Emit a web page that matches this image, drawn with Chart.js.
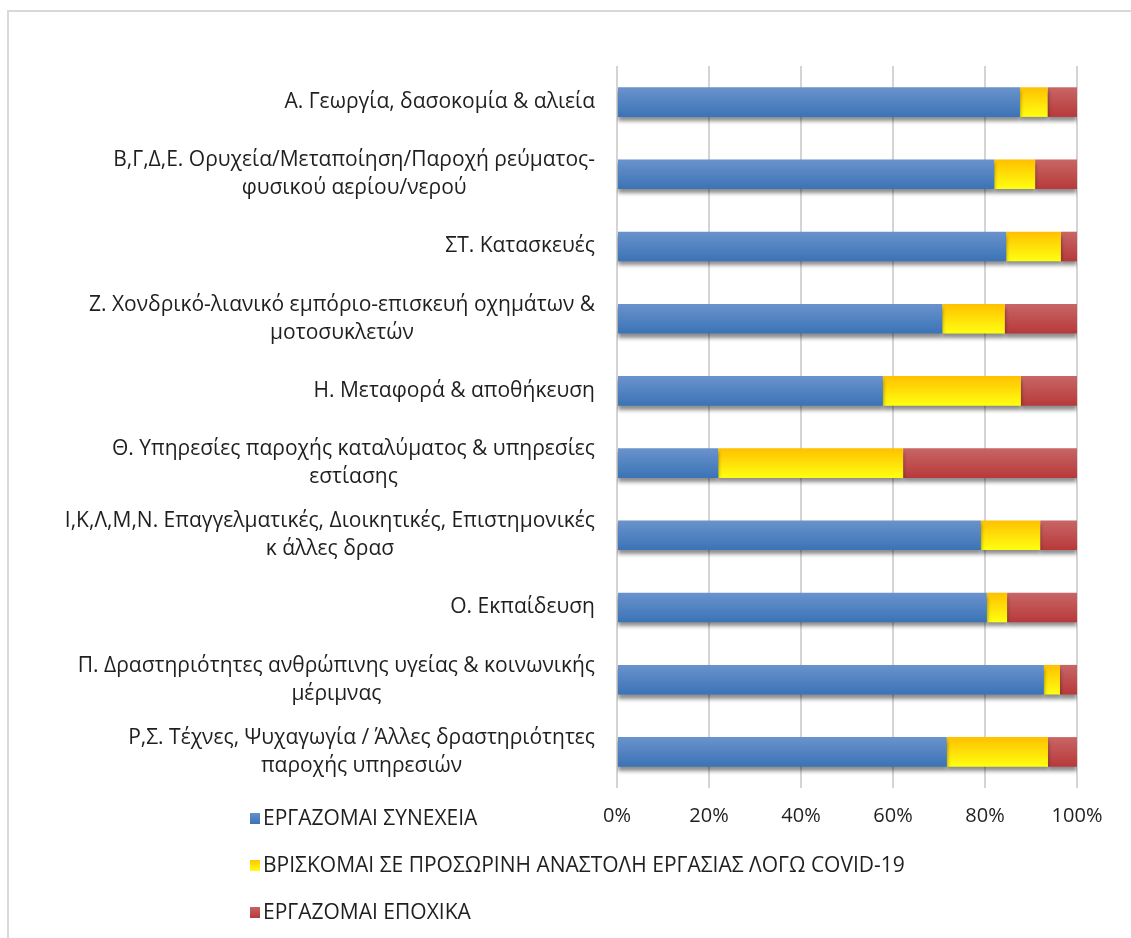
<!DOCTYPE html>
<html>
<head>
<meta charset="utf-8">
<script src="https://cdn.jsdelivr.net/npm/chart.js@4"></script>
<style>
  html, body { margin: 0; padding: 0; background: #fff; }
  #wrap { width: 1131px; height: 938px; position: relative; }
</style>
</head>
<body>
<div id="wrap"><canvas id="graficoSektores"></canvas></div>
<script>
/* categories - sectors (multi-line labels) */
const categories = [
    ['Α. Γεωργία, δασοκομία & αλιεία'],
    ['Β,Γ,Δ,Ε. Ορυχεία/Μεταποίηση/Παροχή ρεύματος-', 'φυσικού αερίου/νερού'],
    ['ΣΤ. Κατασκευές'],
    ['Ζ. Χονδρικό-λιανικό εμπόριο-επισκευή οχημάτων &', 'μοτοσυκλετών'],
    ['Η. Μεταφορά & αποθήκευση'],
    ['Θ. Υπηρεσίες παροχής καταλύματος & υπηρεσίες', 'εστίασης'],
    ['Ι,Κ,Λ,Μ,Ν. Επαγγελματικές, Διοικητικές, Επιστημονικές', 'κ άλλες δρασ'],
    ['Ο. Εκπαίδευση'],
    ['Π. Δραστηριότητες ανθρώπινης υγείας & κοινωνικής', 'μέριμνας'],
    ['Ρ,Σ. Τέχνες, Ψυχαγωγία / Άλλες δραστηριότητες', 'παροχής υπηρεσιών']
];

const seriesNames = [
    'ΕΡΓΑΖΟΜΑΙ ΣΥΝΕΧΕΙΑ',
    'ΒΡΙΣΚΟΜΑΙ ΣΕ ΠΡΟΣΩΡΙΝΗ ΑΝΑΣΤΟΛΗ ΕΡΓΑΣΙΑΣ ΛΟΓΩ COVID-19',
    'ΕΡΓΑΖΟΜΑΙ ΕΠΟΧΙΚΑ'
];

/* values in % */
const working   = [87.6, 82.0, 84.6, 70.7, 57.8, 22.0, 79.1, 80.4, 92.8, 71.7];
const suspended = [6.0, 8.9, 11.9, 13.6, 30.0, 40.2, 12.9, 4.4, 3.5, 22.0];
const seasonal  = [6.4, 9.1, 3.5, 15.7, 12.2, 37.8, 8.0, 15.2, 3.7, 6.3];

const xTicks = [0, 20, 40, 60, 80, 100];

const FONT = '"Open Sans", "Noto Sans", sans-serif';
const TEXT = '#1f1f1f';

// top / bottom colour of each series (Excel style gradient)
const grad = [
    ['#6a93cc', '#3b73b6'],
    ['#ffc000', '#ffff10'],
    ['#c86666', '#b8393a']
];

function barGradient(i) {
    return function (context) {
        const chart = context.chart;
        const y = chart.scales.y;
        if (!chart.chartArea || !y || context.dataIndex === undefined) return grad[i][1];
        const c = y.getPixelForValue(context.dataIndex);
        const h = Math.abs(y.getPixelForValue(1) - y.getPixelForValue(0)) * 0.41 / 2;
        const g = chart.ctx.createLinearGradient(0, c - h, 0, c + h);
        g.addColorStop(0, grad[i][0]);
        g.addColorStop(1, grad[i][1]);
        return g;
    };
}

// soft shadow under the bars
const sombra = {
    id: 'sombra',
    beforeDatasetsDraw(chart) {
        const ctx = chart.ctx;
        ctx.save();
        ctx.shadowColor = 'rgba(0,0,0,0.45)';
        ctx.shadowBlur = 4;
        ctx.shadowOffsetY = 4;
    },
    afterDatasetsDraw(chart) {
        chart.ctx.restore();
    }
};

// frame + category labels + legend
const extras = {
    id: 'extras',
    beforeDraw(chart) {
        const ctx = chart.ctx;
        ctx.save();
        ctx.fillStyle = '#fff';
        ctx.fillRect(0, 0, chart.width, chart.height);
        ctx.strokeStyle = '#d9d9d9';
        ctx.lineWidth = 2;
        ctx.strokeRect(8, 11, chart.width + 20, chart.height + 20);
        ctx.restore();
    },
    afterDraw(chart) {
        const ctx = chart.ctx;
        const y = chart.scales.y;
        const right = 595;
        ctx.save();
        ctx.fillStyle = TEXT;
        ctx.font = '21px ' + FONT;
        ctx.textBaseline = 'middle';
        categories.forEach((lines, i) => {
            const c = y.getPixelForValue(i);
            const lh = 28;
            const top = c - (lines.length - 1) * lh / 2;
            const w0 = ctx.measureText(lines[0]).width;
            const mid = right - w0 / 2;
            ctx.textAlign = 'right';
            ctx.fillText(lines[0], right, top);
            ctx.textAlign = 'center';
            for (let k = 1; k < lines.length; k++) {
                ctx.fillText(lines[k], mid, top + k * lh);
            }
        });

        // legend, one item per row
        ctx.textAlign = 'left';
        chart.data.datasets.forEach((ds, i) => {
            const ly = 818 + i * 47;
            const g = ctx.createLinearGradient(0, ly - 6, 0, ly + 6);
            g.addColorStop(0, grad[i][0]);
            g.addColorStop(1, grad[i][1]);
            ctx.fillStyle = g;
            ctx.fillRect(250, ly - 5, 10, 11);
            ctx.fillStyle = TEXT;
            ctx.fillText(ds.label, 263, ly + 1);
        });
        ctx.restore();
    }
};

const graficoSektores = document.getElementById('graficoSektores');

new Chart(graficoSektores, {
    type: 'bar',
    data: {
        labels: categories,
        datasets: [{
            label: seriesNames[0],
            data: working,
            backgroundColor: barGradient(0)
        }, {
            label: seriesNames[1],
            data: suspended,
            backgroundColor: barGradient(1)
        }, {
            label: seriesNames[2],
            data: seasonal,
            backgroundColor: barGradient(2)
        }]
    },
    options: {
        indexAxis: 'y',
        responsive: true,
        maintainAspectRatio: false,
        animation: false,
        layout: {
            padding: { left: 617, right: 54, top: 66, bottom: 94 }
        },
        datasets: {
            bar: {
                barPercentage: 0.41,
                categoryPercentage: 1,
                borderWidth: 0
            }
        },
        scales: {
            x: {
                stacked: true,
                min: 0,
                max: 100,
                afterBuildTicks(scale) {
                    scale.ticks = xTicks.map(v => ({ value: v }));
                },
                ticks: {
                    callback: v => v + '%',
                    color: TEXT,
                    font: { family: FONT, size: 20 },
                    padding: 16,
                    maxRotation: 0
                },
                grid: {
                    color: '#d4d4d4',
                    lineWidth: 2,
                    drawTicks: false
                },
                border: { display: false }
            },
            y: {
                stacked: true,
                display: false
            }
        },
        plugins: {
            legend: { display: false },
            tooltip: { enabled: false }
        }
    },
    plugins: [sombra, extras]
});
</script>
</body>
</html>
